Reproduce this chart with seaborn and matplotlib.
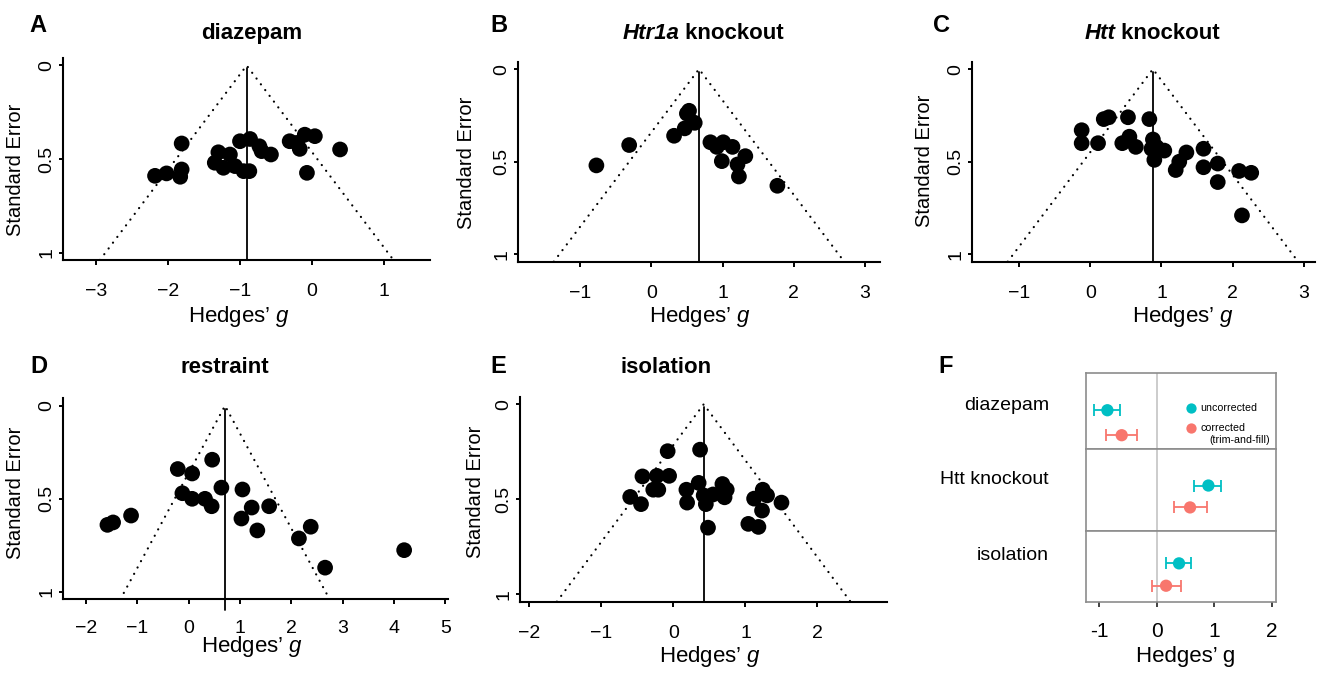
import numpy as np
import pandas as pd
import matplotlib
matplotlib.use('Agg')
import matplotlib.pyplot as plt
import seaborn as sns

# datos
diazepam_g = [-1.81, -2.18, -2.02, -1.81, -1.83, -1.30, -1.14, -1.35, -1.23, -1.07, -0.95, -0.87,
              -1.00, -0.86, -0.73, -0.70, -0.57, -0.31, -0.21, -0.17, -0.10, 0.04, -0.07, 0.39]
diazepam_se = [0.417, 0.590, 0.577, 0.556, 0.595, 0.464, 0.476, 0.520, 0.547, 0.538, 0.565, 0.565,
               0.405, 0.393, 0.432, 0.458, 0.476, 0.405, 0.414, 0.446, 0.370, 0.378, 0.574, 0.449]

htr1a_g = [-0.77, -0.31, 0.32, 0.47, 0.50, 0.53, 0.61, 0.83, 0.92, 1.01, 1.14, 0.99, 1.32, 1.21, 1.23, 1.77]
htr1a_se = [0.52, 0.41, 0.36, 0.32, 0.24, 0.225, 0.29, 0.395, 0.42, 0.395, 0.42, 0.497, 0.47, 0.515, 0.58, 0.63]

htt_g = [-0.12, -0.12, 0.11, 0.19, 0.26, 0.53, 0.83, 0.45, 0.55, 0.64, 0.88, 0.86, 0.93, 1.04, 0.90,
         1.20, 1.25, 1.35, 1.59, 1.59, 1.79, 1.79, 2.09, 2.26, 2.13]
htt_se = [0.33, 0.40, 0.40, 0.27, 0.26, 0.26, 0.27, 0.40, 0.365, 0.42, 0.38, 0.43, 0.42, 0.44, 0.49,
          0.545, 0.50, 0.45, 0.43, 0.53, 0.51, 0.61, 0.55, 0.56, 0.79]

restraint_g = [-1.58, -1.47, -1.12, -0.21, 0.07, 0.46, -0.12, 0.07, 0.32, 0.45, 0.64, 1.05, 1.23, 1.03,
               1.34, 1.57, 2.15, 2.38, 2.66, 4.20]
restraint_se = [0.64, 0.627, 0.59, 0.34, 0.364, 0.29, 0.47, 0.50, 0.50, 0.54, 0.44, 0.45, 0.547, 0.606,
                0.67, 0.54, 0.713, 0.65, 0.87, 0.776]

isolation_g = [-0.08, 0.37, -0.43, -0.23, -0.06, -0.28, -0.21, -0.60, -0.45, 0.18, 0.19, 0.35, 0.42,
               0.45, 0.55, 0.68, 0.74, 0.71, 0.48, 1.12, 1.24, 1.30, 1.23, 1.50, 1.04, 1.18]
isolation_se = [0.247, 0.239, 0.38, 0.377, 0.377, 0.45, 0.45, 0.488, 0.526, 0.45, 0.518, 0.414, 0.48,
                0.526, 0.475, 0.42, 0.45, 0.49, 0.65, 0.497, 0.45, 0.48, 0.56, 0.518, 0.63, 0.646]

pooled_g = [-0.907, 0.67, 0.88, 0.71, 0.42]
funnel_titles = [('', 'diazepam'), ('Htr1a', ' knockout'), ('Htt', ' knockout'), ('', 'restraint'), ('', 'isolation')]
funnel_xticks = [[-3, -2, -1, 0, 1], [-1, 0, 1, 2, 3], [-1, 0, 1, 2, 3], [-2, -1, 0, 1, 2, 3, 4, 5], [-2, -1, 0, 1, 2]]

# panel F
f_groups = ['diazepam', 'Htt knockout', 'isolation']
unc_est = [-0.855, 0.896, 0.387]
unc_lo = [-1.087, 0.653, 0.162]
unc_hi = [-0.630, 1.110, 0.595]
cor_est = [-0.607, 0.578, 0.162]
cor_lo = [-0.879, 0.300, -0.075]
cor_hi = [-0.335, 0.873, 0.416]
f_xticks = [-1, 0, 1, 2]
f_xticklabels = ['-1', '0', '1', '2']

COL_UNC = '#00BFC4'
COL_COR = '#F8766D'

W, H = 1325, 673

sns.set_style('ticks')
plt.rcParams['font.family'] = ['Liberation Sans', 'DejaVu Sans']
plt.rcParams['mathtext.fontset'] = 'custom'
plt.rcParams['mathtext.rm'] = 'Liberation Sans'
plt.rcParams['mathtext.it'] = 'Liberation Sans:italic'
plt.rcParams['mathtext.bf'] = 'Liberation Sans:bold'
plt.rcParams['text.color'] = 'black'
plt.rcParams['axes.edgecolor'] = 'black'
plt.rcParams['xtick.color'] = 'black'
plt.rcParams['ytick.color'] = 'black'


def rect(l, t, r, b):
    return [l / W, 1 - b / H, (r - l) / W, (b - t) / H]


def fx(x):
    return x / W


def fy(y):
    return 1 - y / H


fig = plt.figure(figsize=(W / 100, H / 100), dpi=100)
fig.patch.set_facecolor('white')
renderer = fig.canvas.get_renderer()

# posiciones en pixeles (izq, arriba, der, abajo), limites x, textos
layout = [
    dict(rect=(63, 58, 430, 260), xlim=(-3.458, 1.639), letter=('A', 29, 31.7), title=(252, 39.3),
         ylab=(16, 170), xlab=(239, 321.7), pad=13),
    dict(rect=(518.3, 61.7, 880, 261.7), xlim=(-1.866, 3.21), letter=('B', 490, 31.7), title=(703, 39.3),
         ylab=(466.7, 162.5), xlab=(700, 321.7), pad=13),
    dict(rect=(972.3, 61.7, 1315, 261.7), xlim=(-1.655, 3.155), letter=('C', 933, 31.7), title=(1152, 39.3),
         ylab=(925, 161), xlab=(1183, 321.7), pad=13),
    dict(rect=(63.3, 398.3, 448.3, 599.3), xlim=(-2.44, 5.06), letter=('D', 30, 373.3), title=(225, 372.7),
         ylab=(15.5, 493), xlab=(252.5, 652.3), pad=11),
    dict(rect=(520, 396.7, 887, 601.7), xlim=(-2.13, 2.965), letter=('E', 490, 373.3), title=(665.8, 372.7),
         ylab=(475.7, 491.7), xlab=(710, 661.7), pad=13),
]

funnel_data = [(diazepam_g, diazepam_se), (htr1a_g, htr1a_se), (htt_g, htt_se),
               (restraint_g, restraint_se), (isolation_g, isolation_se)]

for i, lay in enumerate(layout):
    g, se = funnel_data[i]
    ax = fig.add_axes(rect(*lay['rect']))
    ymin, ymax = -0.04, 1.04
    c = pooled_g[i]
    df = pd.DataFrame({'g': g, 'se': se})
    sns.scatterplot(data=df, x='g', y='se', ax=ax, color='black', s=128, edgecolor='none',
                    legend=False, zorder=3, clip_on=False)
    # embudo punteado + linea central
    ax.plot([c - 1.96 * ymax, c, c + 1.96 * ymax], [ymax, 0, ymax], color='black', lw=1.6,
            linestyle=(0, (0.05, 3.2)), dash_capstyle='round', zorder=2)
    vbot = 1.1 if i == 3 else ymax
    ax.plot([c, c], [0.015, vbot], color='black', lw=1.3, zorder=2, clip_on=False)
    ax.set_xlim(*lay['xlim'])
    ax.set_ylim(ymax, ymin)
    ax.set_xticks(funnel_xticks[i])
    ax.set_yticks([0, 0.5, 1])
    ax.set_yticklabels(['0', '0.5', '1'], rotation=90, va='center')
    ax.tick_params(axis='x', length=3.6, width=1.4, pad=lay['pad'], labelsize=14)
    ax.tick_params(axis='y', length=2.6, width=1.4, pad=3, labelsize=14)
    for s in ['top', 'right']:
        ax.spines[s].set_visible(False)
    for s in ['left', 'bottom']:
        ax.spines[s].set_linewidth(1.5)
    ax.set_xlabel('')
    ax.set_ylabel('')
    ax.patch.set_alpha(0)

    # textos
    L, lx, ly = lay['letter']
    fig.text(fx(lx), fy(ly), L, fontsize=17, fontweight='bold', ha='left', va='baseline')
    fig.text(fx(lay['ylab'][0]), fy(lay['ylab'][1]), 'Standard Error', fontsize=14.5, rotation=90,
             ha='center', va='center')
    fig.text(fx(lay['xlab'][0]), fy(lay['xlab'][1]), 'Hedges\u2019 $g$', fontsize=16,
             ha='center', va='baseline')
    it_part, rest = funnel_titles[i]
    tcx, tby = lay['title']
    t1 = fig.text(0, fy(tby), it_part, fontsize=16, fontweight='bold', style='italic', va='baseline')
    t2 = fig.text(0, fy(tby), rest, fontsize=16, fontweight='bold', va='baseline')
    w1 = t1.get_window_extent(renderer).width if it_part else 0
    w2 = t2.get_window_extent(renderer).width
    x0 = tcx - (w1 + w2) / 2
    t1.set_x(fx(x0))
    t2.set_x(fx(x0 + w1))

# ---- panel F ----
fig.text(fx(938), fy(372.7), 'F', fontsize=17, fontweight='bold', ha='left', va='baseline')
f_rows = [(372.7, 449.3, 0.49, 0.816), (449.3, 530.7, 0.445, 0.714), (530.7, 601.7, 0.46, 0.775)]
f_label_y = [405, 479, 555]
f_xlim = (-1.226, 2.063)
GREY = '#8c8c8c'

for k, (top, bot, y_unc, y_cor) in enumerate(f_rows):
    ax = fig.add_axes(rect(1086, top, 1275.7, bot))
    ax.axvline(0, color='#c4c4c4', lw=1.2, zorder=1)
    d = pd.DataFrame({'est': [unc_est[k], cor_est[k]], 'y': [y_unc, y_cor],
                      'tipo': ['uncorrected', 'corrected']})
    ax.errorbar([unc_est[k]], [y_unc], xerr=[[unc_est[k] - unc_lo[k]], [unc_hi[k] - unc_est[k]]],
                fmt='none', ecolor=COL_UNC, elinewidth=1.3, capsize=4.5, capthick=1.3, zorder=2)
    ax.errorbar([cor_est[k]], [y_cor], xerr=[[cor_est[k] - cor_lo[k]], [cor_hi[k] - cor_est[k]]],
                fmt='none', ecolor=COL_COR, elinewidth=1.3, capsize=4.5, capthick=1.3, zorder=2)
    sns.scatterplot(data=d, x='est', y='y', hue='tipo', palette={'uncorrected': COL_UNC, 'corrected': COL_COR},
                    s=78, edgecolor='none', legend=False, ax=ax, zorder=3)
    ax.set_xlim(*f_xlim)
    ax.set_ylim(1, 0)
    ax.set_yticks([])
    ax.set_xlabel('')
    ax.set_ylabel('')
    for s in ax.spines.values():
        s.set_color(GREY)
        s.set_linewidth(1.2)
        s.set_visible(True)
    if k == 2:
        ax.set_xticks(f_xticks)
        ax.set_xticklabels(f_xticklabels)
        ax.tick_params(axis='x', length=3.6, width=1.3, pad=11, labelsize=15, color='#333333')
    else:
        ax.set_xticks([])
    fig.text(fx(1049), fy(f_label_y[k]), f_groups[k], fontsize=14, ha='right', va='center')

# leyenda
fig.add_artist(plt.Line2D([fx(1190.7)], [fy(408.3)], marker='o', markersize=7.4, color=COL_UNC,
                          markeredgewidth=0, linestyle='none', transform=fig.transFigure))
fig.add_artist(plt.Line2D([fx(1190.7)], [fy(427.7)], marker='o', markersize=7.4, color=COL_COR,
                          markeredgewidth=0, linestyle='none', transform=fig.transFigure))
fig.text(fx(1200.7), fy(408.3), 'uncorrected', fontsize=7.7, ha='left', va='center')
fig.text(fx(1200.7), fy(427.7), 'corrected', fontsize=7.7, ha='left', va='center')
fig.text(fx(1270), fy(440.3), '(trim-and-fill)', fontsize=7.7, ha='right', va='center')

fig.text(fx(1185.5), fy(661.7), 'Hedges\u2019 g', fontsize=16, ha='center', va='baseline')

fig.savefig('out.png', dpi=100, facecolor='white')
